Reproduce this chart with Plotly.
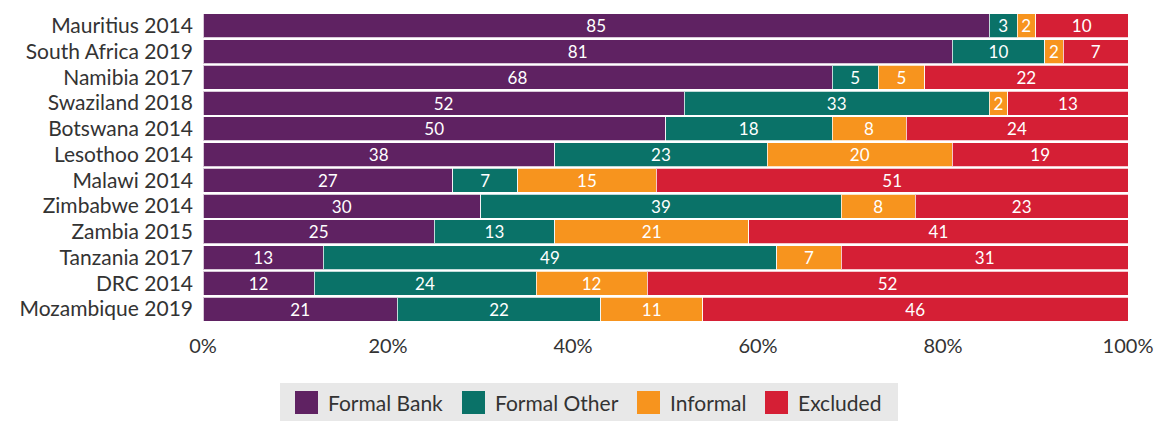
import plotly.graph_objects as go

countries = ["Mauritius 2014", "South Africa 2019", "Namibia 2017", "Swaziland 2018",
             "Botswana 2014", "Lesothoo 2014", "Malawi 2014", "Zimbabwe 2014",
             "Zambia 2015", "Tanzania 2017", "DRC 2014", "Mozambique 2019"]
formal_bank = [85, 81, 68, 52, 50, 38, 27, 30, 25, 13, 12, 21]
formal_other = [3, 10, 5, 33, 18, 23, 7, 39, 13, 49, 24, 22]
informal = [2, 2, 5, 2, 8, 20, 15, 8, 21, 7, 12, 11]
excluded = [10, 7, 22, 13, 24, 19, 51, 23, 41, 31, 52, 46]

series_names = ["Formal Bank", "Formal Other", "Informal", "Excluded"]
series_values = [formal_bank, formal_other, informal, excluded]
colors = ["#5f2262", "#0a7268", "#f7941e", "#d51f35"]

FONT = "Lato"
W, H = 1158, 422
L, R, T, B = 203, 30, 13, 100

fig = go.Figure()
for name, vals, col in zip(series_names, series_values, colors):
    fig.add_trace(go.Bar(
        y=countries, x=vals, name=name, orientation="h",
        marker=dict(color=col, line=dict(color="rgba(255,255,255,0.75)", width=1)),
        text=[str(v) for v in vals], textposition="inside",
        insidetextanchor="middle", textangle=0,
        textfont=dict(color="white", size=17, family=FONT),
        showlegend=False, hoverinfo="x+y+name",
    ))

# custom legend drawn in paper coordinates
pw, ph = W - L - R, H - T - B
def px(x):
    return (x - L) / pw
def py(y):
    return (H - B - y) / ph

shapes = [dict(type="rect", xref="paper", yref="paper",
               x0=px(280), x1=px(898), y0=py(383), y1=py(421),
               fillcolor="#e8e8e8", line=dict(width=0), layer="below")]
annotations = []
leg_x = [295, 462, 637, 765]
for name, col, x0 in zip(series_names, colors, leg_x):
    shapes.append(dict(type="rect", xref="paper", yref="paper",
                       x0=px(x0), x1=px(x0 + 23), y0=py(391), y1=py(414),
                       fillcolor=col, line=dict(width=0)))
    annotations.append(dict(xref="paper", yref="paper", x=px(x0 + 31), y=py(403),
                            text=name, showarrow=False, xanchor="left", yanchor="middle",
                            font=dict(family=FONT, size=21, color="#333333")))

fig.update_layout(
    barmode="stack", bargap=0.07,
    width=W, height=H,
    margin=dict(l=L, r=R, t=T, b=B, pad=0, autoexpand=False),
    paper_bgcolor="white", plot_bgcolor="white",
    font=dict(family=FONT, size=20, color="#333333"),
    xaxis=dict(range=[0, 100], tickvals=[0, 20, 40, 60, 80, 100],
               ticktext=["0%", "20%", "40%", "60%", "80%", "100%"],
               showgrid=False, zeroline=False, showline=False, ticks="",
               ticklen=0, ticklabelstandoff=10, automargin=False,
               tickfont=dict(size=20, family=FONT, color="#333333")),
    yaxis=dict(autorange="reversed", showgrid=False, zeroline=False, ticks="",
               ticklabelstandoff=9, automargin=False,
               tickfont=dict(size=21, family=FONT, color="#333333")),
    uniformtext=dict(minsize=17, mode="show"),
    shapes=shapes, annotations=annotations,
)

fig.write_html("out.html")
